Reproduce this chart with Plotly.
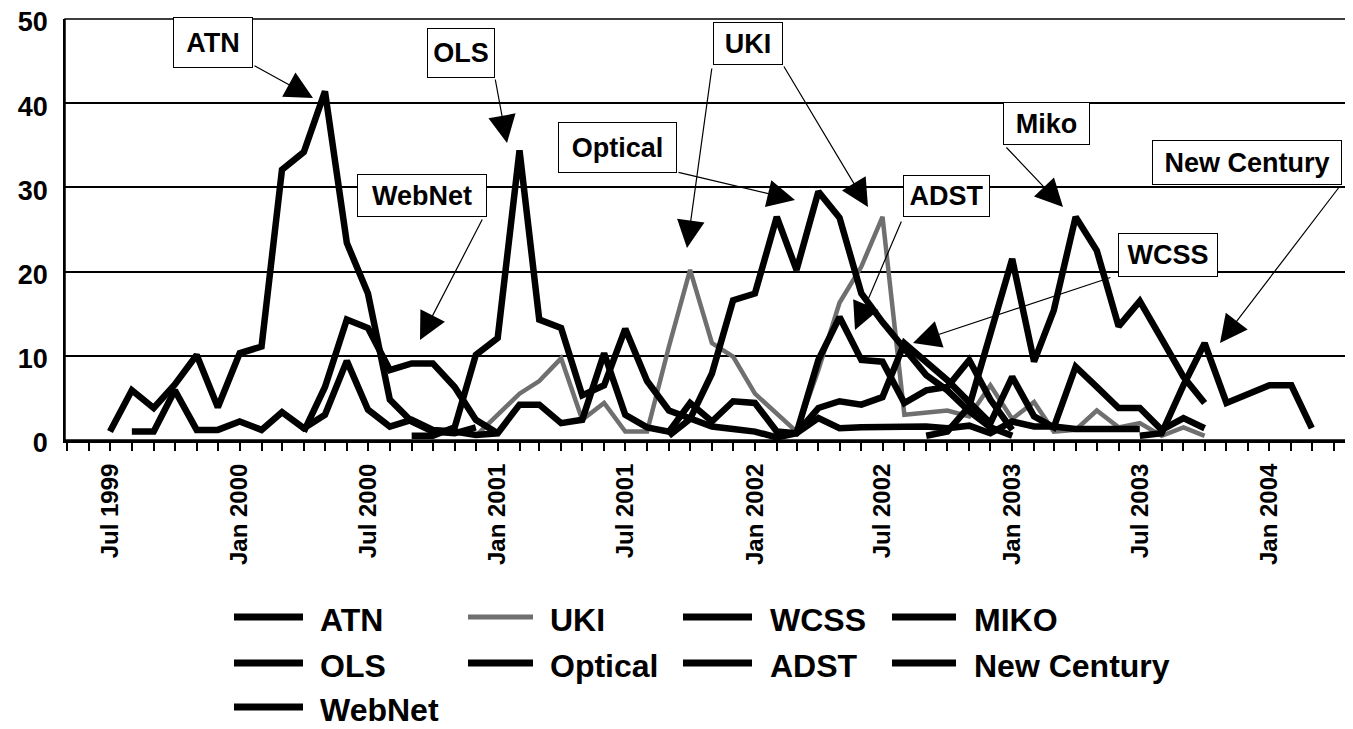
import pandas as pd
import plotly.graph_objects as go

# ---------------- data (monthly values) ----------------
first_month = "1999-07-01"
last_month = "2004-03-01"

atn_start = "1999-07-01"
atn = [1.0, 5.9, 3.8, 6.6, 10.1, 3.9, 10.3, 11.1, 32.1, 34.2, 41.4, 23.4, 17.4,
       4.8, 2.2, 1.0, 0.8, 1.5]

uki_start = "2000-12-01"
uki = [0.5, 3.0, 5.5, 7.0, 9.7, 2.4, 4.4, 1.0, 1.0, 11.1, 20.2, 11.5, 9.9, 5.5,
       3.1, 1.0, 8.3, 16.3, 20.6, 26.5, 3.0, 3.2, 3.5, 2.8, 6.5, 2.5, 4.5, 1.0,
       1.2, 3.5, 1.5, 2.0, 0.5, 1.5, 0.5]

wcss_start = "1999-08-01"
wcss = [1.0, 1.0, 5.9, 1.2, 1.2, 2.2, 1.2, 3.3, 1.4, 3.0, 9.4, 3.6, 1.6, 2.4,
        1.2, 1.0, 0.6, 0.8, 4.2, 4.2, 2.0, 2.4, 10.3, 3.0, 1.5, 1.0, 4.4, 2.2,
        4.6, 4.4, 1.0, 0.8, 3.8, 4.6, 4.2, 5.1, 11.5, 9.3, 7.1, 4.5, 2.0, 7.5,
        2.8, 1.5, 8.7, 6.3, 3.8, 3.8, 1.2, 2.6, 1.4]

miko_start = "2002-09-01"
miko = [0.5, 1.0, 4.0, 12.5, 21.5, 9.3, 15.4, 26.5, 22.5, 13.5, 16.5, 12.0,
        7.5, 4.4]

ols_start = "2000-09-01"
ols = [0.5, 0.5, 1.5, 10.1, 12.1, 34.4, 14.3, 13.3, 5.3, 6.5, 13.2, 7.0, 3.5,
       2.5, 1.6, 1.3, 1.0, 0.3, 0.8, 2.6, 1.4, 1.5, 1.5, 1.5, 1.6, 1.4, 1.7,
       0.8, 2.2, 1.6, 1.6, 1.3, 1.3, 1.3, 1.3]

optical_start = "2001-09-01"
optical = [0.5, 2.5, 7.9, 16.6, 17.4, 26.5, 20.2, 29.5, 26.4, 17.4, 14.0,
           10.7, 7.7, 5.9, 3.4, 1.5, 0.5]

adst_start = "2002-03-01"
adst = [0.8, 9.5, 14.6, 9.5, 9.3, 4.4, 5.9, 6.3, 9.5, 4.8, 1.2]

newcentury_start = "2003-07-01"
newcentury = [0.5, 0.8, 6.5, 11.5, 4.4, 5.4, 6.5, 6.5, 1.4]

webnet_start = "2000-04-01"
webnet = [1.0, 6.3, 14.3, 13.3, 8.3, 9.1, 9.1, 6.3, 2.4, 0.8]

legend_names = ["ATN", "UKI", "WCSS", "MIKO", "OLS", "Optical", "ADST",
                "New Century", "WebNet"]
series_values = [atn, uki, wcss, miko, ols, optical, adst, newcentury, webnet]
series_starts = [atn_start, uki_start, wcss_start, miko_start, ols_start,
                 optical_start, adst_start, newcentury_start, webnet_start]

callout_labels = ["ATN", "OLS", "WebNet", "Optical", "UKI", "ADST", "Miko",
                  "WCSS", "New Century"]

# ---------------- layout geometry (reference-image pixels) ----------------
PAGE_OFF = 8            # default body margin of the html page
W, H = 1353 - PAGE_OFF, 729 - PAGE_OFF
PLOT_X0, PLOT_X1 = 65, 1350     # plot area in reference pixels
PLOT_Y0, PLOT_Y1 = 19, 440
PLOT_W = PLOT_X1 - PLOT_X0
PLOT_H = PLOT_Y1 - PLOT_Y0
ML = PLOT_X0 - PAGE_OFF
MT = PLOT_Y0 - PAGE_OFF
MR = W - (PLOT_X1 - PAGE_OFF)
MB = H - (PLOT_Y1 - PAGE_OFF)
X_FIRST_PX = 110.0      # pixel position of first month
PX_PER_MONTH = 21.46

def paper_x(px):
    return (px - PLOT_X0) / PLOT_W

def paper_y(py):
    return (PLOT_Y1 - py) / PLOT_H

t0 = pd.Timestamp(first_month)
t_end = pd.Timestamp(last_month)
n_months = (t_end.year - t0.year) * 12 + (t_end.month - t0.month)
ms_per_px = (t_end - t0) / (n_months * PX_PER_MONTH)
x_range = [(t0 - (X_FIRST_PX - PLOT_X0) * ms_per_px).isoformat(),
           (t0 + (PLOT_X1 - X_FIRST_PX) * ms_per_px).isoformat()]

FONT = "Liberation Sans, Arial, sans-serif"
BLACK = "#000000"
GREY = "#6f6f6f"

fig = go.Figure()
for name, vals, start in zip(legend_names, series_values, series_starts):
    xs = pd.date_range(start, periods=len(vals), freq="MS")
    is_uki = name == "UKI"
    fig.add_trace(go.Scatter(
        x=xs, y=vals, mode="lines", name=name, showlegend=False,
        line=dict(color=GREY if is_uki else BLACK, width=4.5 if is_uki else 6.5),
    ))

# ---------------- callout boxes and arrows ----------------
# (label, box x0, x1, y0, y1 in px)
boxes = {
    "ATN": (173, 253, 17, 68),
    "OLS": (427, 495, 28, 78),
    "WebNet": (357, 487, 174, 217),
    "Optical": (558, 677, 122, 173),
    "UKI": (713, 783, 22, 65),
    "ADST": (903, 990, 175, 217),
    "Miko": (1003, 1090, 102, 145),
    "WCSS": (1118, 1218, 233, 277),
    "New Century": (1152, 1342, 140, 185),
}
# arrows: (tail px, tip px)
arrows = [
    ((253, 65), (313, 98)),
    ((495, 78), (507, 143)),
    ((483, 218), (420, 340)),
    ((677, 172), (795, 200)),
    ((712, 67), (687, 248)),
    ((783, 65), (868, 207)),
    ((902, 220), (855, 330)),
    ((1005, 146), (1063, 207)),
    ((1112, 277), (913, 343)),
    ((1340, 186), (1220, 343)),
]

PAD = 6
for label in callout_labels:
    x0, x1, y0, y1 = boxes[label]
    fig.add_annotation(
        xref="paper", yref="paper",
        x=paper_x((x0 + x1) / 2), y=paper_y((y0 + y1) / 2),
        xanchor="center", yanchor="middle",
        text=label, showarrow=False,
        font=dict(family=FONT, size=27, color=BLACK, weight="bold"),
        bgcolor="white", bordercolor=BLACK, borderwidth=1, borderpad=PAD,
        width=(x1 - x0) - 2 * PAD - 2, height=(y1 - y0) - 2 * PAD - 2,
        align="center", valign="middle",
    )

for (tx, ty), (hx, hy) in arrows:
    fig.add_annotation(
        xref="paper", yref="paper",
        x=paper_x(hx), y=paper_y(hy),
        ax=tx - hx, ay=ty - hy, axref="pixel", ayref="pixel",
        text="", showarrow=True,
        arrowhead=2, arrowsize=4.6, arrowwidth=1.2, arrowcolor=BLACK,
        standoff=0,
    )

# ---------------- manual legend (4 columns, row major) ----------------
col_line = [(234, 303), (468, 533), (683, 752), (892, 956)]
col_text = [319, 549, 769, 973]
row_y = [619, 665, 709]
for k, name in enumerate(legend_names):
    r, c = divmod(k, 4)
    lx0, lx1 = col_line[c]
    y = row_y[r]
    is_uki = name == "UKI"
    fig.add_shape(
        type="line", xref="paper", yref="paper",
        x0=paper_x(lx0), x1=paper_x(lx1), y0=paper_y(y - 2), y1=paper_y(y - 2),
        line=dict(color=GREY if is_uki else BLACK, width=5 if is_uki else 7),
    )
    fig.add_annotation(
        xref="paper", yref="paper", x=paper_x(col_text[c]), y=paper_y(y + 1),
        xanchor="left", yanchor="middle", text=name, showarrow=False,
        font=dict(family=FONT, size=32, color=BLACK, weight="bold"),
        borderpad=0,
    )

# plot border
fig.add_shape(type="rect", xref="paper", yref="paper", x0=0, x1=1, y0=0, y1=1,
              line=dict(color=BLACK, width=1.5), layer="above")

fig.update_layout(
    width=W, height=H,
    margin=dict(l=ML, r=MR, t=MT, b=MB, pad=0, autoexpand=False),
    paper_bgcolor="white", plot_bgcolor="white",
    font=dict(family=FONT, color=BLACK),
    showlegend=False,
    xaxis=dict(
        type="date", range=x_range, automargin=False,
        showgrid=False, zeroline=False,
        showline=True, linecolor=BLACK, linewidth=3,
        ticks="outside", ticklen=8, tickwidth=1.5, tickcolor=BLACK,
        tick0=first_month, dtick="M6", tickformat="%b %Y",
        tickangle=-90, ticklabelstandoff=3, ticklabeloverflow="allow",
        tickfont=dict(family=FONT, size=24, color=BLACK, weight="bold"),
        minor=dict(dtick="M1", ticks="outside", ticklen=8, tickwidth=1.5,
                   tickcolor=BLACK, showgrid=False),
    ),
    yaxis=dict(
        range=[0, 50], dtick=10, tick0=0, automargin=False,
        showgrid=True, gridcolor=BLACK, gridwidth=1.5,
        zeroline=False, showline=True, linecolor=BLACK, linewidth=1.5,
        ticks="", ticklabelstandoff=10, ticklabeloverflow="allow",
        ticklabelshift=3,
        tickfont=dict(family=FONT, size=27, color=BLACK, weight="bold"),
    ),
)

fig.write_html("out.html")
